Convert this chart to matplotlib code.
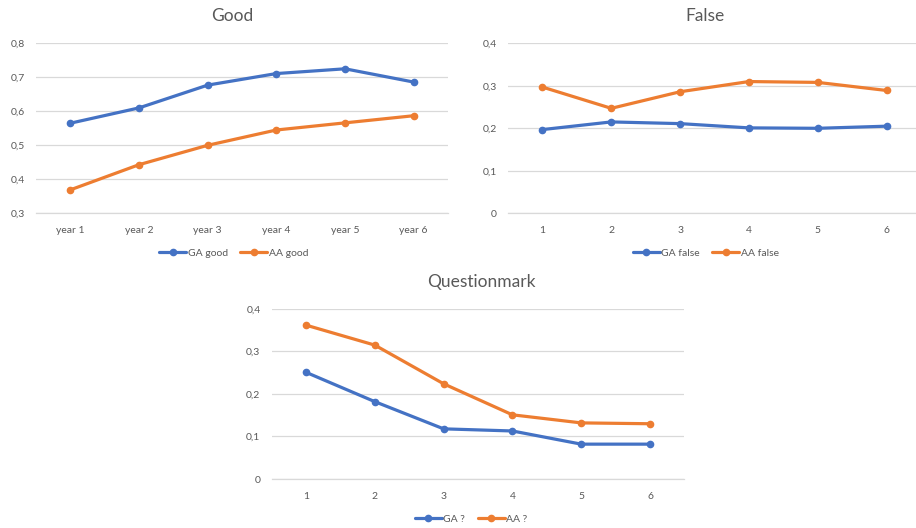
import matplotlib
matplotlib.use("Agg")
import matplotlib.pyplot as plt
from matplotlib.ticker import FuncFormatter

plt.rcParams['font.family'] = ['Lato', 'DejaVu Sans']

# data
years = ["year 1", "year 2", "year 3", "year 4", "year 5", "year 6"]
steps = ["1", "2", "3", "4", "5", "6"]

ga_good = [0.565, 0.610, 0.677, 0.711, 0.725, 0.686]
aa_good = [0.369, 0.443, 0.500, 0.545, 0.566, 0.587]

ga_false = [0.197, 0.215, 0.211, 0.201, 0.200, 0.205]
aa_false = [0.297, 0.247, 0.286, 0.310, 0.308, 0.289]

ga_q = [0.251, 0.182, 0.118, 0.113, 0.082, 0.082]
aa_q = [0.362, 0.315, 0.224, 0.151, 0.132, 0.130]

BLUE = "#4472C4"
ORANGE = "#ED7D31"
TEXT = "#595959"
GRID = "#D9D9D9"


def comma_fmt(v, _):
    if abs(v) < 1e-9:
        return "0"
    return ("%.1f" % v).replace(".", ",")


def draw_chart(ax, title, labels, ga, aa, names, ylim, yticks, title_x, legend_x):
    x = list(range(1, len(labels) + 1))
    ax.plot(x, ga, color=BLUE, lw=2.3, marker="o", ms=4.5, label=names[0],
            solid_capstyle="round", zorder=3)
    ax.plot(x, aa, color=ORANGE, lw=2.3, marker="o", ms=4.5, label=names[1],
            solid_capstyle="round", zorder=3)
    ax.set_xlim(0.5, len(labels) + 0.5)
    ax.set_ylim(*ylim)
    ax.set_yticks(yticks)
    ax.yaxis.set_major_formatter(FuncFormatter(comma_fmt))
    ax.set_xticks(x)
    ax.set_xticklabels(labels)
    ax.grid(axis="y", color=GRID, lw=0.9)
    ax.set_axisbelow(True)
    for s in ["top", "right", "left"]:
        ax.spines[s].set_visible(False)
    ax.spines["bottom"].set_color(GRID)
    ax.spines["bottom"].set_linewidth(0.9)
    ax.tick_params(length=0, labelsize=7.5, colors=TEXT)
    ax.tick_params(axis="x", pad=9)
    ax.tick_params(axis="y", pad=8)
    ax.text(title_x, 1.16, title, transform=ax.transAxes, ha="center",
            va="center", fontsize=12.5, color=TEXT)
    leg = ax.legend(loc="center", bbox_to_anchor=(legend_x, -0.235), ncol=2,
                    frameon=False, fontsize=7.5, handlelength=2.6,
                    columnspacing=1.2, handletextpad=0.15, numpoints=1)
    for t in leg.get_texts():
        t.set_color(TEXT)


fig = plt.figure(figsize=(9.16, 5.28), dpi=100)

ax1 = fig.add_axes([0.0393, 0.596, 0.4498, 0.322])
draw_chart(ax1, "Good", years, ga_good, aa_good, ["GA good", "AA good"],
           (0.3, 0.8), [0.3, 0.4, 0.5, 0.6, 0.7, 0.8], 0.476, 0.48)

ax2 = fig.add_axes([0.5546, 0.596, 0.4509, 0.322])
draw_chart(ax2, "False", steps, ga_false, aa_false, ["GA false", "AA false"],
           (0, 0.4), [0, 0.1, 0.2, 0.3, 0.4], 0.477, 0.479)

ax3 = fig.add_axes([0.2965, 0.0928, 0.4507, 0.322])
draw_chart(ax3, "Questionmark", steps, ga_q, aa_q, ["GA ?", "AA ?"],
           (0, 0.4), [0, 0.1, 0.2, 0.3, 0.4], 0.507, 0.483)

fig.savefig("out.png", dpi=100)
